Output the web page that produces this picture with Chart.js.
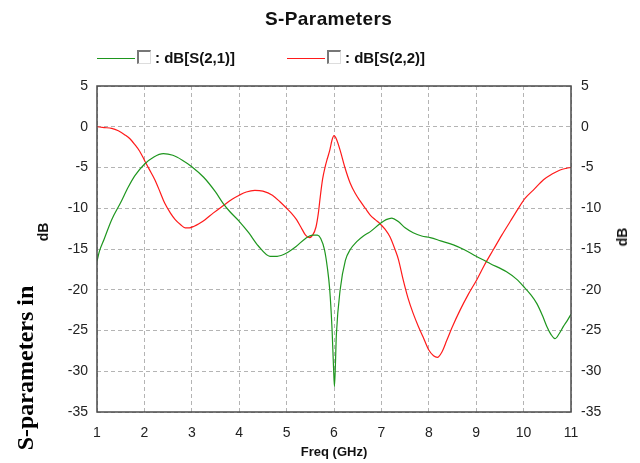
<!DOCTYPE html>
<html>
<head>
<meta charset="utf-8">
<script src="https://cdn.jsdelivr.net/npm/chart.js@4.4.0/dist/chart.umd.min.js"></script>
<style>
  body { margin: 0; background: #fff; }
  #wrap { position: relative; width: 640px; height: 463px; overflow: hidden;
          font-family: Arial, "Liberation Sans", sans-serif; color: #111; }
  #chart { position: absolute; left: 0; top: 0; }
  .abs { position: absolute; white-space: nowrap; }
  .title { left: 265px; top: 8px; font-size: 19px; font-weight: bold; letter-spacing: 0.4px; }
  .leg { top: 49px; font-size: 15px; font-weight: bold; line-height: 18px; }
  .legline { position: absolute; height: 1px; top: 58px; width: 38px; }
  .chk { position: absolute; top: 50px; width: 11px; height: 11px; background: #fff;
         border-top: 2px solid #777; border-left: 2px solid #777;
         border-right: 1px solid #ddd; border-bottom: 1px solid #ddd; }
  .ylab { font-size: 14px; font-weight: bold; transform: translate(-50%, -50%) rotate(-90deg); }
  .cap { font-family: "Liberation Serif", "Times New Roman", serif; font-size: 24px; font-weight: bold;
         color: #000; transform: translate(-50%, -50%) rotate(-90deg); }
</style>
</head>
<body>
<div id="wrap">
  <canvas id="chart" width="640" height="463"></canvas>
  <div class="abs title">S-Parameters</div>
  <div class="legline" style="left:97px;background:#1e961e"></div>
  <div class="chk" style="left:137px"></div>
  <div class="abs leg" style="left:155px">: dB[S(2,1)]</div>
  <div class="legline" style="left:287px;background:#ff1a1a"></div>
  <div class="chk" style="left:327px"></div>
  <div class="abs leg" style="left:345px">: dB[S(2,2)]</div>
  <div class="abs ylab" style="left:43px;top:232px">dB</div>
  <div class="abs ylab" style="left:622px;top:237px">dB</div>
  <div class="abs cap" style="left:25px;top:368px">S-parameters in</div>
</div>
<script>
// S(2,1)
const s21Freq = [1.0, 1.05, 1.15, 1.31, 1.5, 1.66, 1.8, 2.0, 2.2, 2.4, 2.6, 2.8, 3.0, 3.25, 3.5, 3.66, 3.8,
  4.0, 4.2, 4.4, 4.65, 4.8, 5.0, 5.2, 5.4, 5.55, 5.65, 5.72, 5.8, 5.86, 5.91, 5.96, 5.99, 6.01, 6.05,
  6.13, 6.24, 6.34, 6.48, 6.62, 6.76, 6.97, 7.1, 7.22, 7.35, 7.5, 7.67, 7.85, 8.03, 8.25, 8.52, 8.75,
  9.0, 9.3, 9.64, 9.85, 10.0, 10.15, 10.28, 10.4, 10.49, 10.58, 10.66, 10.75, 10.84, 10.93, 11.0];
const s21Db = [-16.5, -15.3, -13.8, -11.4, -9.3, -7.4, -6.0, -4.6, -3.7, -3.3, -3.5, -4.1, -4.9, -6.2, -8.0, -9.4, -10.4,
  -11.6, -13.0, -14.6, -15.9, -15.9, -15.5, -14.7, -13.7, -13.3, -13.3, -13.7, -15.1, -17.3, -20.0, -25.0, -29.5, -31.9, -25.5,
  -20.0, -16.4, -15.1, -14.1, -13.4, -12.9, -11.9, -11.4, -11.2, -11.6, -12.4, -13.0, -13.4, -13.6, -14.0, -14.5, -15.1,
  -15.9, -16.8, -17.8, -18.7, -19.6, -20.6, -21.7, -23.2, -24.5, -25.5, -26.0, -25.4, -24.5, -23.7, -23.0];

// S(2,2)
const s22Freq = [1.0, 1.15, 1.31, 1.45, 1.59, 1.7, 1.8, 1.9, 2.0, 2.1, 2.22, 2.33, 2.43, 2.55, 2.65, 2.76, 2.86,
  2.95, 3.05, 3.15, 3.28, 3.45, 3.66, 3.85, 4.0, 4.15, 4.33, 4.5, 4.7, 4.86, 5.0, 5.1, 5.21, 5.3, 5.4, 5.48,
  5.55, 5.62, 5.67, 5.71, 5.76, 5.81, 5.86, 5.91, 5.96, 6.0, 6.05, 6.13, 6.23, 6.34, 6.45, 6.55, 6.66, 6.76,
  6.87, 6.97, 7.08, 7.18, 7.29, 7.36, 7.46, 7.56, 7.67, 7.78, 7.88, 8.0, 8.1, 8.18, 8.28, 8.38, 8.5, 8.66,
  8.83, 9.01, 9.18, 9.36, 9.54, 9.72, 9.88, 10.03, 10.2, 10.42, 10.6, 10.77, 10.9, 11.0];
const s22Db = [0.0, -0.1, -0.2, -0.5, -1.0, -1.5, -2.2, -3.0, -4.1, -5.2, -6.5, -8.0, -9.4, -10.6, -11.4, -12.0, -12.4,
  -12.4, -12.2, -11.9, -11.4, -10.6, -9.7, -8.9, -8.4, -8.0, -7.8, -7.9, -8.4, -9.2, -10.0, -10.6, -11.4, -12.3, -13.3, -13.6,
  -13.3, -12.3, -10.6, -8.6, -6.4, -5.0, -3.9, -2.9, -1.6, -1.1, -1.5, -2.9, -5.0, -6.9, -8.2, -9.1, -10.0, -10.8,
  -11.4, -11.9, -12.6, -13.5, -15.1, -16.3, -18.8, -21.0, -22.9, -24.5, -25.8, -27.4, -28.1, -28.3, -27.6, -26.2, -24.5, -22.5,
  -20.6, -18.8, -16.9, -15.1, -13.3, -11.6, -10.1, -8.8, -7.8, -6.5, -5.8, -5.3, -5.1, -5.0];

const xMin = 1, xMax = 11, yMin = -35, yMax = 5;

function pairs(xs, ys) {
  return xs.map((x, i) => ({ x: x, y: ys[i] }));
}

// solid frame round the plot area
const frame = {
  id: 'frame',
  afterDraw(chart) {
    const a = chart.chartArea, ctx = chart.ctx;
    ctx.save();
    ctx.strokeStyle = '#4a4a4a';
    ctx.lineWidth = 1.5;
    ctx.strokeRect(a.left, a.top, a.right - a.left, a.bottom - a.top);
    ctx.restore();
  }
};

const tickFont = { family: 'Arial, "Liberation Sans", sans-serif', size: 14 };
const gridOpts = { color: '#b4b4b4', drawTicks: false, lineWidth: 1 };

new Chart(document.getElementById('chart'), {
  type: 'line',
  data: {
    datasets: [
      { label: 'dB[S(2,1)]', data: pairs(s21Freq, s21Db), borderColor: '#1e961e',
        borderWidth: 1.2, pointRadius: 0, cubicInterpolationMode: 'monotone', yAxisID: 'y' },
      { label: 'dB[S(2,2)]', data: pairs(s22Freq, s22Db), borderColor: '#ff1a1a',
        borderWidth: 1.2, pointRadius: 0, cubicInterpolationMode: 'monotone', yAxisID: 'y' }
    ]
  },
  options: {
    responsive: false,
    animation: false,
    devicePixelRatio: 1,
    layout: { padding: { top: 86, left: 0, right: 0, bottom: 0 } },
    plugins: { legend: { display: false }, title: { display: false }, tooltip: { enabled: false } },
    scales: {
      x: {
        type: 'linear', min: xMin, max: xMax,
        ticks: { stepSize: 1, padding: 13, color: '#222', font: tickFont, maxRotation: 0 },
        grid: gridOpts,
        border: { display: false, dash: [4, 3] },
        title: { display: true, text: 'Freq (GHz)', color: '#111',
                 font: { family: 'Arial, "Liberation Sans", sans-serif', size: 13, weight: 'bold' },
                 padding: { top: 0, bottom: 3 } },
        afterFit(s) { s.height = 51; }
      },
      y: {
        position: 'left', min: yMin, max: yMax,
        ticks: { stepSize: 5, padding: 9, color: '#222', font: tickFont },
        grid: gridOpts,
        border: { display: false, dash: [4, 3] },
        afterFit(s) { s.width = 97; }
      },
      y2: {
        position: 'right', min: yMin, max: yMax,
        ticks: { stepSize: 5, padding: 10, color: '#222', font: tickFont },
        grid: { display: false, drawTicks: false },
        border: { display: false },
        afterFit(s) { s.width = 69; }
      }
    }
  },
  plugins: [frame]
});
</script>
</body>
</html>
